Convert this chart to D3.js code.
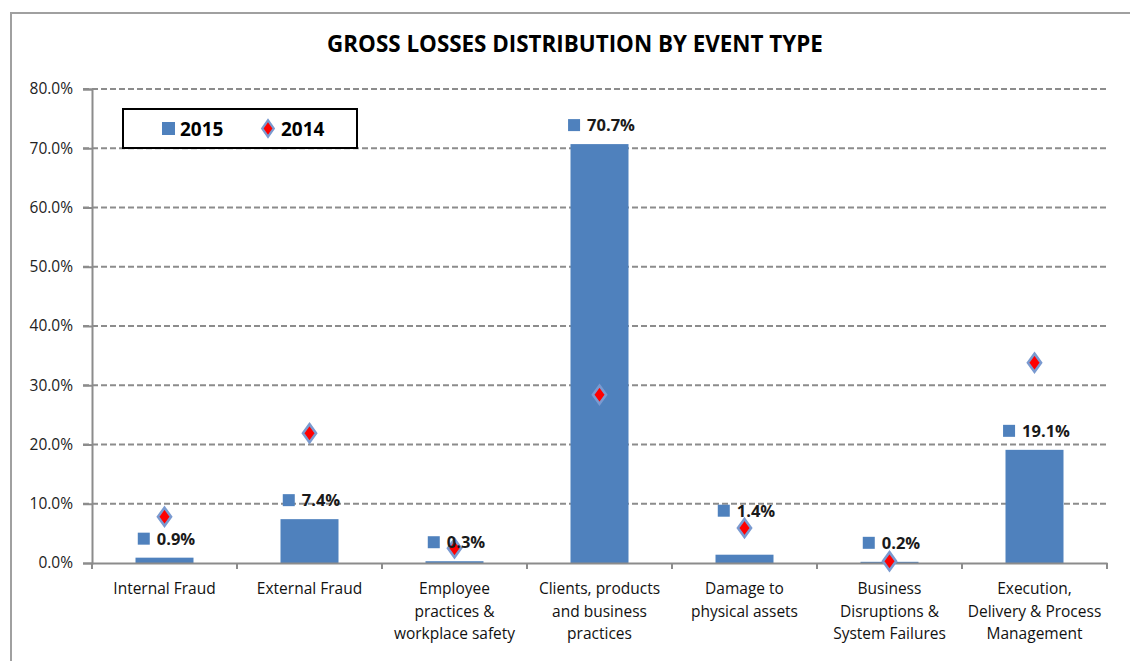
<!DOCTYPE html>
<html>
<head>
<meta charset="utf-8">
<script src="https://cdn.jsdelivr.net/npm/d3@7"></script>
<style>
  html, body { margin: 0; padding: 0; background: #fff; }
  svg { display: block; font-family: 'Open Sans', 'Noto Sans', sans-serif; }
</style>
</head>
<body>
<div id="chart"></div>
<script>
// categories, one entry per line of the axis label
const categories = [
  ['Internal Fraud'],
  ['External Fraud'],
  ['Employee', 'practices &', 'workplace safety'],
  ['Clients, products', 'and business', 'practices'],
  ['Damage to', 'physical assets'],
  ['Business', 'Disruptions &', 'System Failures'],
  ['Execution,', 'Delivery & Process', 'Management']
];
const values2015 = [0.009, 0.074, 0.003, 0.707, 0.014, 0.002, 0.191];
const values2014 = [0.078, 0.219, 0.025, 0.284, 0.059, 0.003, 0.338];
const yTicks = [0, 0.1, 0.2, 0.3, 0.4, 0.5, 0.6, 0.7, 0.8];
const seriesNames = ['2015', '2014'];

const W = 1130, H = 661;
const margin = { top: 89, right: 23, bottom: 98, left: 92 };
const barColor = '#4f81bd';
const diamondFill = '#ff0000';
const diamondStroke = '#7a9ad0';
// the damage label was dragged up above its diamond in the original
const labelNudge = { 'Damage to physical assets': 25 };

const svg = d3.select('#chart').append('svg')
  .attr('width', W)
  .attr('height', H);

// outer chart frame (clipped on right/bottom in the reference)
svg.append('path')
  .attr('d', `M11,${H + 5} L11,13 L${W + 5},13`)
  .attr('fill', 'none')
  .attr('stroke', '#a0a0a0')
  .attr('stroke-width', 2);

svg.append('text')
  .attr('x', 575)
  .attr('y', 52)
  .attr('text-anchor', 'middle')
  .style('font-weight', 'bold')
  .style('font-size', '22.4px')
  .style('fill', '#000')
  .text('GROSS LOSSES DISTRIBUTION BY EVENT TYPE');

const keys = categories.map((c) => c.join(' '));
const x = d3.scaleBand()
  .domain(keys)
  .range([margin.left, W - margin.right])
  .padding(0);
const y = d3.scaleLinear()
  .domain([0, 0.8])
  .range([H - margin.bottom, margin.top]);

const barW = x.bandwidth() * 0.4;

// dashed grid lines
svg.append('g')
  .selectAll('line')
  .data(yTicks.filter((d) => d > 0))
  .enter()
  .append('line')
  .attr('x1', margin.left - 9)
  .attr('x2', W - margin.right)
  .attr('y1', (d) => y(d))
  .attr('y2', (d) => y(d))
  .style('stroke', '#8c8c8c')
  .style('stroke-width', 2)
  .style('stroke-dasharray', '6,3');

// y axis
const yAxis = svg.append('g')
  .attr('transform', `translate(${margin.left},0)`)
  .call(d3.axisLeft(y).tickValues(yTicks).tickFormat(d3.format('.1%')).tickSize(9).tickPadding(10));
yAxis.select('.domain').attr('stroke', '#8c8c8c').attr('stroke-width', 2);
yAxis.selectAll('.tick line').attr('stroke', '#8c8c8c').attr('stroke-width', 2);
yAxis.selectAll('text')
  .style('font-size', '15.5px')
  .style('fill', '#222')
  .style('font-family', "'Open Sans', sans-serif");

// bars
svg.append('g')
  .selectAll('rect')
  .data(values2015)
  .enter()
  .append('rect')
  .attr('x', (d, i) => x(keys[i]) + (x.bandwidth() - barW) / 2)
  .attr('width', barW)
  .attr('y', (d) => y(d))
  .attr('height', (d) => y(0) - y(d))
  .style('fill', barColor);

// x axis
const xAxis = svg.append('g')
  .attr('transform', `translate(0,${y(0)})`)
  .call(d3.axisBottom(x).tickSize(0).tickFormat(''));
xAxis.select('.domain').attr('stroke', '#8c8c8c').attr('stroke-width', 2);
xAxis.selectAll('.tick').remove();

// boundary ticks between categories
const bounds = keys.map((k) => x(k)).concat([x(keys[keys.length - 1]) + x.bandwidth()]);
svg.append('g')
  .selectAll('line')
  .data(bounds)
  .enter()
  .append('line')
  .attr('x1', (d) => d)
  .attr('x2', (d) => d)
  .attr('y1', y(0))
  .attr('y2', y(0) + 6)
  .style('stroke', '#8c8c8c')
  .style('stroke-width', 2);

// category labels
const catLabels = svg.append('g')
  .selectAll('text')
  .data(categories)
  .enter()
  .append('text')
  .attr('x', (d, i) => x(keys[i]) + x.bandwidth() / 2)
  .attr('y', y(0) + 31)
  .attr('text-anchor', 'middle')
  .style('font-size', '15.5px')
  .style('fill', '#111');
catLabels.selectAll('tspan')
  .data((d) => d)
  .enter()
  .append('tspan')
  .attr('x', function () { return d3.select(this.parentNode).attr('x'); })
  .attr('dy', (d, i) => (i === 0 ? 0 : 22.5))
  .text((d) => d);

// 2014 diamonds
const diamond = d3.symbol().type(d3.symbolDiamond).size(95);
svg.append('g')
  .selectAll('path')
  .data(values2014)
  .enter()
  .append('path')
  .attr('d', diamond)
  .attr('transform', (d, i) => `translate(${x(keys[i]) + x.bandwidth() / 2},${y(d)}) scale(1.25,1)`)
  .style('fill', diamondFill)
  .style('stroke', diamondStroke)
  .style('stroke-width', 2.2);

// data labels for 2015, square + text centred over the bar
const labels = svg.append('g')
  .selectAll('g')
  .data(values2015)
  .enter()
  .append('g');
labels.append('rect')
  .attr('x', 0)
  .attr('y', -6)
  .attr('width', 12)
  .attr('height', 12)
  .style('fill', barColor);
labels.append('text')
  .attr('x', 19)
  .attr('y', 6)
  .style('font-size', '16.5px')
  .style('font-weight', 'bold')
  .style('fill', '#1a1a1a')
  .text((d) => d3.format('.1%')(d));
labels.attr('transform', function (d, i) {
  const tw = d3.select(this).select('text').node().getComputedTextLength();
  const total = 19 + tw;
  const lift = labelNudge[keys[i]] || 0;
  return `translate(${x(keys[i]) + x.bandwidth() / 2 + 2 - total / 2},${y(d) - 19 - lift})`;
});

// legend
const legend = svg.append('g').attr('transform', 'translate(123,109)');
legend.append('rect')
  .attr('width', 234)
  .attr('height', 39)
  .style('fill', '#fff')
  .style('stroke', '#000')
  .style('stroke-width', 2);
legend.append('rect')
  .attr('x', 39)
  .attr('y', 13)
  .attr('width', 13)
  .attr('height', 13)
  .style('fill', barColor);
legend.append('path')
  .attr('d', d3.symbol().type(d3.symbolDiamond).size(80))
  .attr('transform', 'translate(145,19.5) scale(1.2,1)')
  .style('fill', diamondFill)
  .style('stroke', diamondStroke)
  .style('stroke-width', 2);
legend.selectAll('.legend-label')
  .data(seriesNames)
  .enter()
  .append('text')
  .attr('class', 'legend-label')
  .attr('x', (d, i) => (i === 0 ? 57 : 158))
  .attr('y', 26.5)
  .style('font-size', '19px')
  .style('font-weight', 'bold')
  .style('fill', '#000')
  .text((d) => d);
</script>
</body>
</html>
